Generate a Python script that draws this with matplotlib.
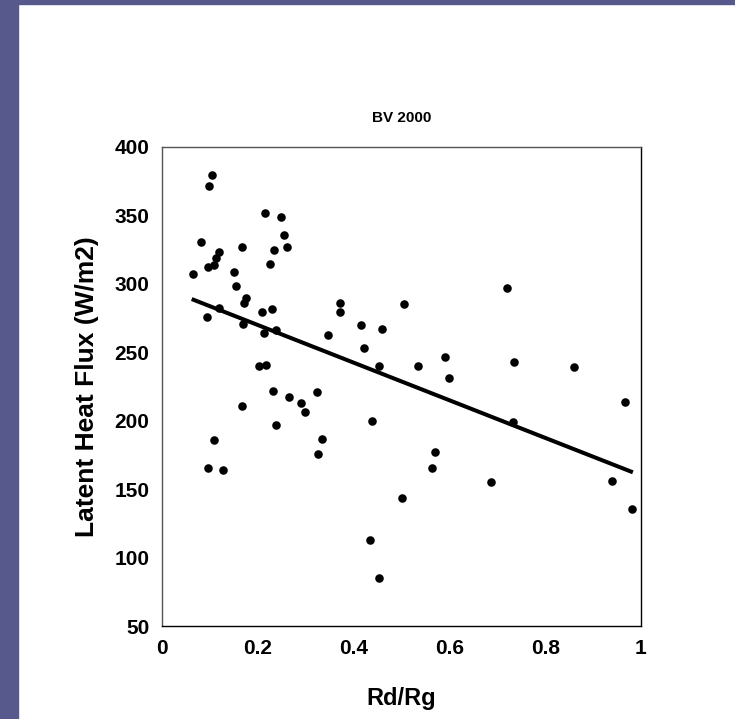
import numpy as np
import matplotlib
matplotlib.use("Agg")
import matplotlib.pyplot as plt
from matplotlib.patches import Rectangle

plt.rcParams['font.family'] = ['Liberation Sans', 'DejaVu Sans']
plt.rcParams['font.weight'] = 'bold'

# Rd/Rg ratio vs latent heat flux
rd_rg = [0.105, 0.099, 0.082, 0.064, 0.119, 0.112, 0.109, 0.095, 0.168, 0.151,
         0.154, 0.175, 0.172, 0.120, 0.093, 0.170, 0.215, 0.248, 0.255, 0.234,
         0.262, 0.225, 0.208, 0.230, 0.237, 0.372, 0.372, 0.346, 0.203, 0.217,
         0.232, 0.265, 0.290, 0.299, 0.323, 0.168, 0.239, 0.333, 0.326, 0.109,
         0.097, 0.127, 0.721, 0.506, 0.415, 0.459, 0.422, 0.452, 0.535, 0.591,
         0.599, 0.735, 0.861, 0.967, 0.438, 0.732, 0.570, 0.563, 0.687, 0.939,
         0.981, 0.500, 0.434, 0.454, 0.212]
latent_flux = [379.5, 371.7, 330.8, 307.2, 323.5, 318.7, 313.8, 312.1, 326.7, 308.9,
               298.4, 289.4, 285.8, 282.6, 275.6, 270.4, 351.5, 348.6, 335.7, 324.7,
               326.7, 314.3, 279.7, 281.6, 266.3, 286.2, 279.2, 262.9, 240.0, 240.7,
               221.9, 217.1, 212.7, 206.6, 221.2, 210.5, 196.9, 186.9, 175.7, 185.9,
               165.2, 163.8, 296.7, 285.0, 269.9, 267.0, 253.4, 240.2, 239.8, 246.6,
               231.0, 243.1, 239.6, 213.5, 199.8, 198.9, 177.4, 165.2, 155.5, 156.2,
               135.5, 143.8, 112.8, 84.8, 264.2]

# linear trend line end points
trend_x = [0.062, 0.983]
trend_y = [288.9, 162.3]

x_ticks = [0, 0.2, 0.4, 0.6, 0.8, 1]
x_ticklabels = ["0", "0.2", "0.4", "0.6", "0.8", "1"]
y_ticks = [50, 100, 150, 200, 250, 300, 350, 400]

fig = plt.figure(figsize=(7.35, 7.19), dpi=100)
fig.patch.set_facecolor("white")

# slide background strips
fig.patches.append(Rectangle((0, 0), 17.5 / 735, 1, transform=fig.transFigure,
                             color="#57588c", zorder=0))
fig.patches.append(Rectangle((0, 1 - 3.7 / 719), 1, 3.7 / 719, transform=fig.transFigure,
                             color="#57588c", zorder=0))

ax = fig.add_axes([162 / 735, 1 - 626 / 719, 479 / 735, 479 / 719])
ax.scatter(rd_rg, latent_flux, s=38, color="black", zorder=3, linewidths=0)
ax.plot(trend_x, trend_y, color="black", lw=2.9, solid_capstyle="butt", zorder=2)

ax.set_xlim(0, 1)
ax.set_ylim(50, 400)
ax.set_xticks(x_ticks)
ax.set_xticklabels(x_ticklabels)
ax.set_yticks(y_ticks)
ax.tick_params(length=0, labelsize=15, pad=9)
for lab in ax.get_xticklabels() + ax.get_yticklabels():
    lab.set_fontweight("bold")
for sp in ax.spines.values():
    sp.set_linewidth(1.0)
    sp.set_color("black")
ax.spines["left"].set_color("#555555")
ax.spines["top"].set_color("#555555")

ax.set_xlabel("Rd/Rg", fontsize=17, fontweight="bold", labelpad=21)
ax.set_ylabel("Latent Heat Flux (W/m2)", fontsize=19, fontweight="bold", labelpad=11)

fig.text(401.5 / 735, 1 - 118 / 719, "BV 2000", ha="center", va="center",
         fontsize=11, fontweight="bold")

fig.savefig("out.png", dpi=100, facecolor=fig.get_facecolor())
